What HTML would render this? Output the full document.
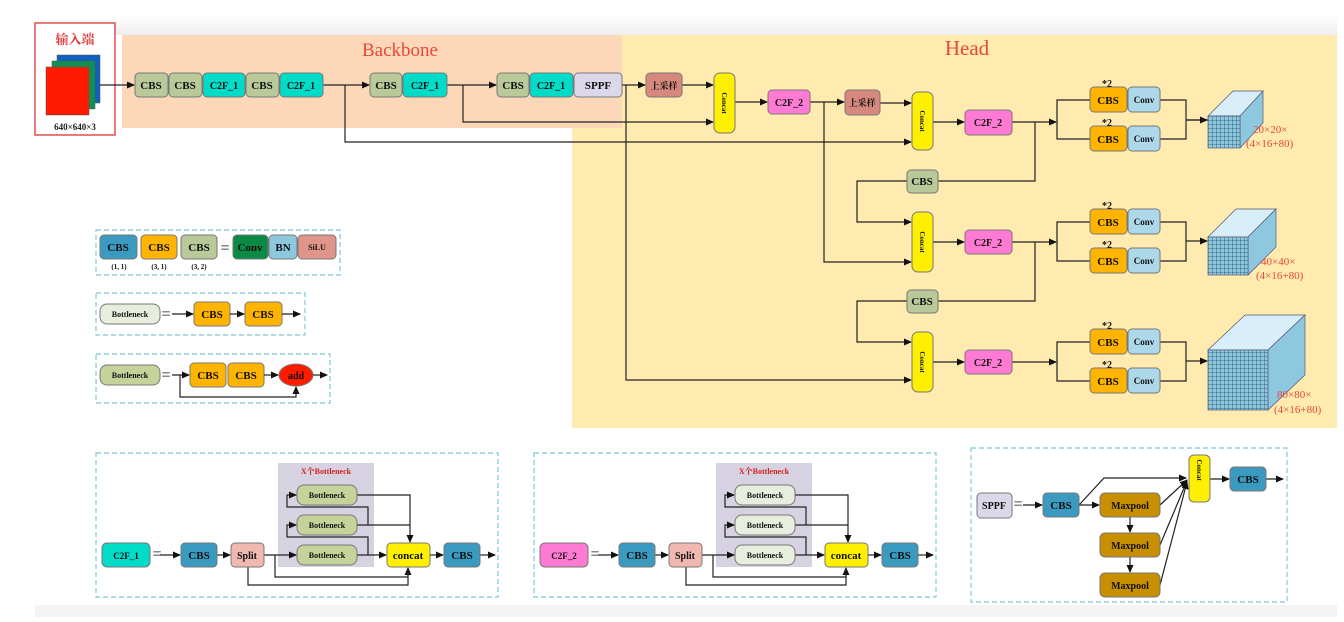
<!DOCTYPE html>
<html><head><meta charset="utf-8"><style>
html,body{margin:0;padding:0;background:#fff}
svg text{font-family:"Liberation Serif","Noto Serif CJK SC",serif;font-weight:bold}
</style></head><body>
<svg width="1344" height="617" viewBox="0 0 1344 617" xmlns="http://www.w3.org/2000/svg">
<defs>
<marker id="a" markerWidth="8" markerHeight="8" refX="7" refY="4" orient="auto" markerUnits="userSpaceOnUse"><path d="M0,0.5 L8,4 L0,7.5 z" fill="#111"/></marker>
<linearGradient id="tg" x1="0" y1="0" x2="0" y2="1"><stop offset="0" stop-color="#fff"/><stop offset="1" stop-color="#eeeeee"/></linearGradient>
<pattern id="grid" width="4" height="4" patternUnits="userSpaceOnUse"><rect width="4" height="4" fill="#8ec8de"/><path d="M0,0H4M0,0V4" stroke="#1d4f6a" stroke-width="0.8"/></pattern>
</defs>
<rect x="35" y="15" width="1302" height="20" fill="url(#tg)"/>
<rect x="35" y="605" width="1302" height="12" fill="#f4f4f4"/>
<!-- regions -->
<rect x="122" y="35" width="500" height="93" fill="#fdd8b8"/>
<polygon points="622,35 1337,35 1337,428 572,428 572,128 622,128" fill="#ffeab0"/>
<text x="400" y="56" font-size="19" fill="#e8483a" text-anchor="middle" style="font-weight:normal">Backbone</text>
<text x="967" y="55" font-size="21" fill="#e8483a" text-anchor="middle" style="font-weight:normal">Head</text>
<!-- input -->
<rect x="35" y="23" width="80" height="112" fill="#fff" stroke="#e05050" stroke-width="1.5"/>
<text x="75" y="44" font-size="13" fill="#e03a3a" text-anchor="middle">输入端</text>
<rect x="57" y="55" width="43" height="48" fill="#1060c0" stroke="#555" stroke-width="0.5"/>
<rect x="52" y="61" width="43" height="48" fill="#109050" stroke="#555" stroke-width="0.5"/>
<rect x="46" y="67" width="43" height="48" fill="#ff1a00" stroke="#555" stroke-width="0.5"/>
<text x="75" y="130" font-size="9" fill="#222" text-anchor="middle">640×640×3</text>

<g stroke="#222" stroke-width="1.2" fill="none">
<!-- backbone lines -->
<path d="M100,85H134" marker-end="url(#a)"/>
<path d="M323,85H369" marker-end="url(#a)"/>
<path d="M447,85H496" marker-end="url(#a)"/>
<path d="M622,85H645" marker-end="url(#a)"/>
<path d="M682,85H713" marker-end="url(#a)"/>
<path d="M345,85V142H911" marker-end="url(#a)"/>
<path d="M463,85V122H713" marker-end="url(#a)"/>
<path d="M626,85V380H911" marker-end="url(#a)"/>
<path d="M735,102H767" marker-end="url(#a)"/>
<path d="M810,102H844" marker-end="url(#a)"/>
<path d="M880,103H911" marker-end="url(#a)"/>
<path d="M824,102V262H911" marker-end="url(#a)"/>
<path d="M933,122H964" marker-end="url(#a)"/>
<path d="M933,242H964" marker-end="url(#a)"/>
<path d="M933,362H964" marker-end="url(#a)"/>
<path d="M1012,122H1056" marker-end="url(#a)"/>
<path d="M1012,242H1056" marker-end="url(#a)"/>
<path d="M1012,362H1056" marker-end="url(#a)"/>
<path d="M1035,122V181H938"/>
<path d="M907,181H857V222H911" marker-end="url(#a)"/>
<path d="M1035,242V301H938"/>
<path d="M907,301H857V342H911" marker-end="url(#a)"/>
<!-- output branches -->
<path d="M1057,122V100H1090M1057,122V139H1090"/>
<path d="M1160,100H1186V139H1160M1186,120H1208" />
<path d="M1057,242V222H1090M1057,242V261H1090"/>
<path d="M1160,222H1186V261H1160M1186,241H1207" marker-end="url(#a)"/>
<path d="M1057,362V342H1090M1057,362V381H1090"/>
<path d="M1160,342H1186V381H1160M1186,361H1207" marker-end="url(#a)"/>
<path d="M1186,120H1207" marker-end="url(#a)"/>
</g>

<g stroke="#777" stroke-width="1">
<!-- backbone blocks -->
<rect x="135" y="73" width="33" height="24" rx="4" fill="#b9c99a"/>
<rect x="169" y="73" width="33" height="24" rx="4" fill="#b9c99a"/>
<rect x="203" y="73" width="42" height="24" rx="4" fill="#00dcc8"/>
<rect x="246" y="73" width="33" height="24" rx="4" fill="#b9c99a"/>
<rect x="280" y="73" width="43" height="24" rx="4" fill="#00dcc8"/>
<rect x="370" y="73" width="32" height="24" rx="4" fill="#b9c99a"/>
<rect x="403" y="73" width="44" height="24" rx="4" fill="#00dcc8"/>
<rect x="497" y="73" width="32" height="24" rx="4" fill="#b9c99a"/>
<rect x="530" y="73" width="43" height="24" rx="4" fill="#00dcc8"/>
<rect x="574" y="73" width="48" height="24" rx="4" fill="#dcd8ea"/>
<rect x="646" y="73" width="36" height="24" rx="4" fill="#d6887c"/>
<rect x="714" y="73" width="21" height="60" rx="6" fill="#fff000"/>
<rect x="768" y="90" width="42" height="24" rx="4" fill="#ff7ad2"/>
<rect x="845" y="90" width="35" height="25" rx="4" fill="#d6887c"/>
<rect x="912" y="92" width="21" height="58" rx="6" fill="#fff000"/>
<rect x="965" y="110" width="47" height="25" rx="4" fill="#ff7ad2"/>
<rect x="907" y="170" width="31" height="23" rx="4" fill="#b9c99a"/>
<rect x="912" y="212" width="21" height="60" rx="6" fill="#fff000"/>
<rect x="965" y="230" width="47" height="24" rx="4" fill="#ff7ad2"/>
<rect x="907" y="290" width="31" height="23" rx="4" fill="#b9c99a"/>
<rect x="912" y="332" width="21" height="60" rx="6" fill="#fff000"/>
<rect x="965" y="350" width="47" height="24" rx="4" fill="#ff7ad2"/>
<!-- head out -->
<rect x="1090" y="87" width="37" height="25" rx="4" fill="#ffb400"/><rect x="1128" y="87" width="32" height="25" rx="4" fill="#acd8ea"/>
<rect x="1090" y="126" width="37" height="25" rx="4" fill="#ffb400"/><rect x="1128" y="126" width="32" height="25" rx="4" fill="#acd8ea"/>
<rect x="1090" y="209" width="37" height="25" rx="4" fill="#ffb400"/><rect x="1128" y="209" width="32" height="25" rx="4" fill="#acd8ea"/>
<rect x="1090" y="248" width="37" height="25" rx="4" fill="#ffb400"/><rect x="1128" y="248" width="32" height="25" rx="4" fill="#acd8ea"/>
<rect x="1090" y="329" width="37" height="25" rx="4" fill="#ffb400"/><rect x="1128" y="329" width="32" height="25" rx="4" fill="#acd8ea"/>
<rect x="1090" y="368" width="37" height="25" rx="4" fill="#ffb400"/><rect x="1128" y="368" width="32" height="25" rx="4" fill="#acd8ea"/>
</g>
<g font-size="11" fill="#111" text-anchor="middle">
<text x="151" y="89">CBS</text><text x="185" y="89">CBS</text><text x="224" y="89" font-size="10">C2F_1</text><text x="262" y="89">CBS</text><text x="301" y="89" font-size="10">C2F_1</text>
<text x="386" y="89">CBS</text><text x="425" y="89" font-size="10">C2F_1</text>
<text x="513" y="89">CBS</text><text x="551" y="89" font-size="10">C2F_1</text><text x="598" y="89">SPPF</text>
<text x="664" y="89" font-size="9">上采样</text>
<text x="789" y="106" font-size="10">C2F_2</text><text x="862" y="106" font-size="9">上采样</text>
<text x="988" y="126" font-size="10">C2F_2</text><text x="988" y="246" font-size="10">C2F_2</text><text x="988" y="366" font-size="10">C2F_2</text>
<text x="922" y="185">CBS</text><text x="922" y="305">CBS</text>
<text transform="translate(722,103) rotate(90)" font-size="7">Concat</text>
<text transform="translate(920,121) rotate(90)" font-size="7">Concat</text>
<text transform="translate(920,242) rotate(90)" font-size="7">Concat</text>
<text transform="translate(920,362) rotate(90)" font-size="7">Concat</text>
<g font-size="11"><text x="1108" y="104">CBS</text><text x="1108" y="143">CBS</text><text x="1108" y="226">CBS</text><text x="1108" y="265">CBS</text><text x="1108" y="346">CBS</text><text x="1108" y="385">CBS</text></g>
<g font-size="9"><text x="1144" y="103">Conv</text><text x="1144" y="142">Conv</text><text x="1144" y="225">Conv</text><text x="1144" y="264">Conv</text><text x="1144" y="345">Conv</text><text x="1144" y="384">Conv</text></g>
<g font-size="10"><text x="1107" y="87">*2</text><text x="1107" y="126">*2</text><text x="1107" y="209">*2</text><text x="1107" y="248">*2</text><text x="1107" y="329">*2</text><text x="1107" y="368">*2</text></g>
</g>
<!-- cubes -->
<g stroke="#557" stroke-width="0.7">
<polygon points="1208,116 1233,91 1263,91 1240,116" fill="#d8eef8"/>
<polygon points="1240,116 1263,91 1263,123 1240,148" fill="#8ec8de"/>
<rect x="1208" y="116" width="32" height="32" fill="url(#grid)"/>
<polygon points="1208,237 1236,209 1276,209 1248,237" fill="#d8eef8"/>
<polygon points="1248,237 1276,209 1276,247 1248,275" fill="#8ec8de"/>
<rect x="1208" y="237" width="40" height="38" fill="url(#grid)"/>
<polygon points="1208,350 1245,315 1305,315 1268,350" fill="#d8eef8"/>
<polygon points="1268,350 1305,315 1305,375 1268,410" fill="#8ec8de"/>
<rect x="1208" y="350" width="60" height="60" fill="url(#grid)"/>
</g>
<g font-size="11" fill="#e8483a" style="font-weight:normal">
<text x="1253" y="133" style="font-weight:normal">20×20×</text><text x="1246" y="147" style="font-weight:normal">(4×16+80)</text>
<text x="1261" y="265" style="font-weight:normal">40×40×</text><text x="1256" y="279" style="font-weight:normal">(4×16+80)</text>
<text x="1277" y="398" style="font-weight:normal">80×80×</text><text x="1274" y="413" style="font-weight:normal">(4×16+80)</text>
</g>

<!-- legends -->
<g fill="none" stroke="#7cc8d8" stroke-width="1.2" stroke-dasharray="5,3">
<rect x="96" y="230" width="244" height="45"/>
<rect x="96" y="293" width="209" height="42"/>
<rect x="96" y="354" width="234" height="49"/>
<rect x="96" y="453" width="402" height="144"/>
<rect x="534" y="453" width="402" height="144"/>
<rect x="971" y="448" width="316" height="154"/>
</g>
<g stroke="#777" stroke-width="1">
<rect x="100" y="235" width="37" height="24" rx="4" fill="#3a9ac0"/>
<rect x="141" y="235" width="36" height="24" rx="4" fill="#ffb400"/>
<rect x="181" y="235" width="36" height="24" rx="4" fill="#b9c99a"/>
<rect x="233" y="235" width="35" height="24" rx="4" fill="#0a8a45"/>
<rect x="269" y="235" width="28" height="24" rx="4" fill="#8ec8de"/>
<rect x="298" y="235" width="38" height="24" rx="4" fill="#e0958a"/>
<rect x="100" y="304" width="60" height="20" rx="7" fill="#e8eedd"/>
<rect x="194" y="302" width="36" height="24" rx="4" fill="#ffb400"/>
<rect x="245" y="302" width="37" height="24" rx="4" fill="#ffb400"/>
<rect x="100" y="365" width="60" height="20" rx="7" fill="#c5d39a"/>
<rect x="190" y="363" width="36" height="24" rx="4" fill="#ffb400"/>
<rect x="228" y="363" width="36" height="24" rx="4" fill="#ffb400"/>
<ellipse cx="296" cy="375" rx="17" ry="11" fill="#ff1a00"/>
</g>
<g stroke="#222" stroke-width="1.2" fill="none">
<path d="M172,314H193" marker-end="url(#a)"/><path d="M230,314H244" marker-end="url(#a)"/><path d="M282,314H300" marker-end="url(#a)"/>
<path d="M172,375H189" marker-end="url(#a)"/><path d="M264,375H278" marker-end="url(#a)"/><path d="M313,375H327" marker-end="url(#a)"/>
<path d="M180,375V397H296V387" marker-end="url(#a)"/>
</g>
<g font-size="11" fill="#111" text-anchor="middle">
<text x="118" y="251">CBS</text><text x="159" y="251">CBS</text><text x="199" y="251">CBS</text>
<text x="250" y="251" fill="#111">Conv</text><text x="283" y="251">BN</text><text x="317" y="250" font-size="8">SiLU</text>
<g font-size="7"><text x="119" y="269">(1, 1)</text><text x="159" y="269">(3, 1)</text><text x="199" y="269">(3, 2)</text></g>
<text x="225" y="253" font-size="16" style="font-weight:normal">=</text>
<text x="130" y="317" font-size="8">Bottleneck</text><text x="166" y="319" font-size="16" style="font-weight:normal">=</text>
<text x="212" y="318">CBS</text><text x="263" y="318">CBS</text>
<text x="130" y="378" font-size="8">Bottleneck</text><text x="166" y="380" font-size="16" style="font-weight:normal">=</text>
<text x="208" y="379">CBS</text><text x="246" y="379">CBS</text><text x="296" y="379" font-size="10">add</text>
</g>

<!-- C2F panels -->
<g id="p1">
<rect x="278" y="463" width="96" height="104" fill="#d6d2e2"/>
<g stroke="#222" stroke-width="1.2" fill="none">
<path d="M160,555H180" marker-end="url(#a)"/><path d="M217,555H230" marker-end="url(#a)"/>
<path d="M264,555H296" marker-end="url(#a)"/>
<path d="M357,555H386" marker-end="url(#a)"/>
<path d="M430,555H443" marker-end="url(#a)"/><path d="M480,555H495" marker-end="url(#a)"/>
<path d="M357,495H410V542" marker-end="url(#a)"/>
<path d="M357,525H410"/>
<path d="M368,555V537H287V525H296" marker-end="url(#a)"/>
<path d="M368,525V507H287V495H296" marker-end="url(#a)"/>
<path d="M275,555V577H408V568" marker-end="url(#a)"/>
<path d="M248,567V585H408V568"/>
</g>
<g stroke="#777" stroke-width="1">
<rect x="102" y="543" width="48" height="24" rx="5" fill="#00dcc8"/>
<rect x="181" y="543" width="36" height="24" rx="4" fill="#3a9ac0"/>
<rect x="231" y="543" width="33" height="24" rx="4" fill="#f0b8b0"/>
<rect x="297" y="485" width="60" height="20" rx="7" fill="#c5d39a"/>
<rect x="297" y="515" width="60" height="20" rx="7" fill="#c5d39a"/>
<rect x="297" y="545" width="60" height="20" rx="7" fill="#c5d39a"/>
<rect x="387" y="543" width="43" height="24" rx="4" fill="#fff000"/>
<rect x="444" y="543" width="36" height="24" rx="4" fill="#3a9ac0"/>
</g>
<g font-size="11" fill="#111" text-anchor="middle">
<text x="126" y="559" font-size="9">C2F_1</text><text x="157" y="559" font-size="16" style="font-weight:normal">=</text>
<text x="199" y="559">CBS</text><text x="247" y="559" font-size="10">Split</text>
<text x="326" y="474" font-size="8" fill="#d62020">X个Bottleneck</text>
<text x="327" y="498" font-size="8">Bottleneck</text><text x="327" y="528" font-size="8">Bottleneck</text><text x="327" y="558" font-size="8">Bottleneck</text>
<text x="408" y="559">concat</text><text x="462" y="559">CBS</text>
</g>
</g>
<g transform="translate(438,0)">
<rect x="278" y="463" width="96" height="104" fill="#d6d2e2"/>
<g stroke="#222" stroke-width="1.2" fill="none">
<path d="M160,555H180" marker-end="url(#a)"/><path d="M217,555H230" marker-end="url(#a)"/>
<path d="M264,555H296" marker-end="url(#a)"/>
<path d="M357,555H386" marker-end="url(#a)"/>
<path d="M430,555H443" marker-end="url(#a)"/><path d="M480,555H495" marker-end="url(#a)"/>
<path d="M357,495H410V542" marker-end="url(#a)"/>
<path d="M357,525H410"/>
<path d="M368,555V537H287V525H296" marker-end="url(#a)"/>
<path d="M368,525V507H287V495H296" marker-end="url(#a)"/>
<path d="M275,555V577H408V568" marker-end="url(#a)"/>
<path d="M248,567V585H408V568"/>
</g>
<g stroke="#777" stroke-width="1">
<rect x="102" y="543" width="48" height="24" rx="5" fill="#ff7ad2"/>
<rect x="181" y="543" width="36" height="24" rx="4" fill="#3a9ac0"/>
<rect x="231" y="543" width="33" height="24" rx="4" fill="#f0b8b0"/>
<rect x="297" y="485" width="60" height="20" rx="7" fill="#e8eedd"/>
<rect x="297" y="515" width="60" height="20" rx="7" fill="#e8eedd"/>
<rect x="297" y="545" width="60" height="20" rx="7" fill="#e8eedd"/>
<rect x="387" y="543" width="43" height="24" rx="4" fill="#fff000"/>
<rect x="444" y="543" width="36" height="24" rx="4" fill="#3a9ac0"/>
</g>
<g font-size="11" fill="#111" text-anchor="middle">
<text x="126" y="559" font-size="9">C2F_2</text><text x="157" y="559" font-size="16" style="font-weight:normal">=</text>
<text x="199" y="559">CBS</text><text x="247" y="559" font-size="10">Split</text>
<text x="326" y="474" font-size="8" fill="#d62020">X个Bottleneck</text>
<text x="327" y="498" font-size="8">Bottleneck</text><text x="327" y="528" font-size="8">Bottleneck</text><text x="327" y="558" font-size="8">Bottleneck</text>
<text x="408" y="559">concat</text><text x="462" y="559">CBS</text>
</g>
</g>

<!-- SPPF panel -->
<g stroke="#222" stroke-width="1.2" fill="none">
<path d="M1023,505H1042" marker-end="url(#a)"/>
<path d="M1079,505H1099" marker-end="url(#a)"/>
<path d="M1079,505L1104,478H1186" marker-end="url(#a)"/>
<path d="M1160,505L1187,480" marker-end="url(#a)"/>
<path d="M1160,545L1187,481" marker-end="url(#a)"/>
<path d="M1160,585L1187,482" marker-end="url(#a)"/>
<path d="M1130,517V532" marker-end="url(#a)"/>
<path d="M1130,557V572" marker-end="url(#a)"/>
<path d="M1210,479H1229" marker-end="url(#a)"/>
<path d="M1266,479H1283" marker-end="url(#a)"/>
</g>
<g stroke="#777" stroke-width="1">
<rect x="977" y="493" width="35" height="25" rx="4" fill="#dcd8ea"/>
<rect x="1043" y="493" width="36" height="24" rx="4" fill="#3a9ac0"/>
<rect x="1100" y="493" width="60" height="24" rx="5" fill="#c89000"/>
<rect x="1100" y="533" width="60" height="24" rx="5" fill="#c89000"/>
<rect x="1100" y="573" width="60" height="24" rx="5" fill="#c89000"/>
<rect x="1189" y="455" width="21" height="47" rx="5" fill="#fff000"/>
<rect x="1230" y="467" width="36" height="24" rx="4" fill="#3a9ac0"/>
</g>
<g font-size="11" fill="#111" text-anchor="middle">
<text x="994" y="509" font-size="10">SPPF</text><text x="1018" y="509" font-size="16" style="font-weight:normal">=</text>
<text x="1061" y="509">CBS</text>
<text x="1130" y="509" font-size="10">Maxpool</text><text x="1130" y="549" font-size="10">Maxpool</text><text x="1130" y="589" font-size="10">Maxpool</text>
<text transform="translate(1197,470) rotate(90)" font-size="7">Concat</text>
<text x="1248" y="483">CBS</text>
</g>
</svg>
</body></html>
